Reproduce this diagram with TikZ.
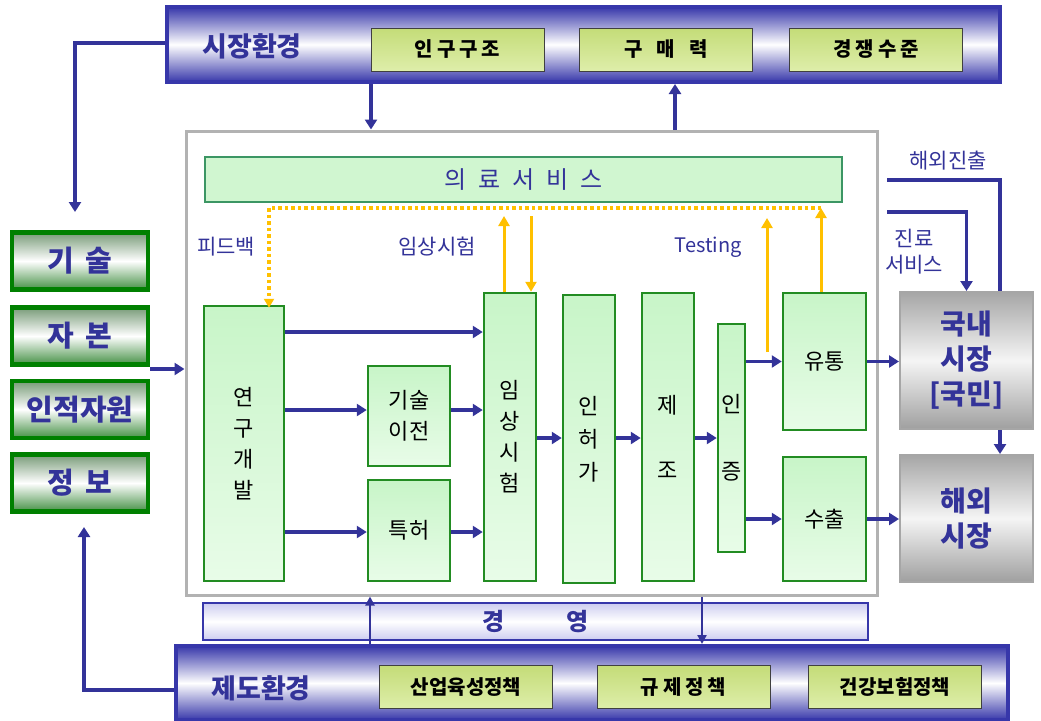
\documentclass[tikz,border=0pt]{standalone}
\usepackage{fontspec}
\setmainfont{Noto Sans CJK KR}
\usetikzlibrary{arrows.meta}
\definecolor{navy}{RGB}{51,51,153}
\definecolor{barblue}{RGB}{55,55,170}
\definecolor{mint}{RGB}{200,245,200}
\definecolor{mintlt}{RGB}{232,252,232}
\definecolor{grnline}{RGB}{34,140,34}
\definecolor{olivebox}{RGB}{196,220,120}
\definecolor{olivelt}{RGB}{222,238,170}
\definecolor{gold}{RGB}{255,192,0}
\definecolor{tealgrn}{RGB}{60,150,100}
\definecolor{lgreen}{RGB}{0,128,0}
\definecolor{lgtop}{RGB}{120,155,120}
\definecolor{lgbot}{RGB}{70,145,70}
\definecolor{lav}{RGB}{205,205,240}
\tikzset{
  bararrow/.style={draw=navy, line width=3.5pt, -{Triangle[length=10pt,width=12pt]}},
  thinarrow/.style={draw=navy, line width=2.2pt, -{Triangle[length=9pt,width=9pt]}},
  bline/.style={draw=navy, line width=3.5pt},
  yarrow/.style={draw=gold, line width=3pt, -{Triangle[length=10pt,width=11pt]}},
  ydots/.style={draw=gold, line width=3.5pt, dash pattern=on 3.5pt off 3pt},
  ydotarrow/.style={draw=gold, line width=3.5pt, dash pattern=on 3.5pt off 3pt, -{Triangle[length=9pt,width=10pt]}},
  envbar/.style={draw=barblue, line width=4pt, top color=barblue, bottom color=barblue, middle color=white, inner sep=0pt},
  envlabel/.style={text=navy, font=\bfseries\fontsize{27}{30}\selectfont, inner sep=0pt},
  obox/.style={draw=black!75, line width=1pt, top color=olivebox, bottom color=olivelt, minimum width=173pt, minimum height=43pt, inner sep=0pt, font=\bfseries\fontsize{20}{22}\selectfont},
  lbox/.style={draw=lgreen, line width=4.5pt, top color=lgtop, bottom color=lgbot, middle color=white, minimum width=136pt, minimum height=57pt, inner sep=0pt, text=navy, font=\bfseries\fontsize{29}{30}\selectfont},
  pbox/.style={draw=grnline, line width=2.5pt, top color=mint, bottom color=mintlt, inner sep=0pt, align=center, font=\fontsize{22}{31}\selectfont},
  mbox/.style={draw=gray!60, line width=3pt, fill=white, inner sep=0pt},
  gbox/.style={draw=gray!70, line width=2pt, top color=gray!70, bottom color=gray!75, middle color=gray!8, inner sep=0pt, minimum width=133pt, align=center, text=navy, font=\bfseries\fontsize{28}{35}\selectfont},
  lbl/.style={text=navy, inner sep=0pt, font=\fontsize{21}{26}\selectfont, align=center}
}
\begin{document}
\begin{tikzpicture}[x=1pt,y=-1pt]
\useasboundingbox (0,0) rectangle (1041,720);

% main frame
\node[mbox, minimum width=691pt, minimum height=464pt] (main) at (531.5,363) {};

% market environment bar
\node[envbar, minimum width=833pt, minimum height=75pt] (top) at (583.5,44.5) {};
\node[envlabel] (toplbl) at (252,46) {시장환경};
\node[obox] (t1) at (457.5,49.5) {인\hspace{4pt}구\hspace{4pt}구\hspace{4pt}조};
\node[obox] (t2) at (666,49.5) {구\hspace{14pt}매\hspace{14pt}력};
\node[obox] (t3) at (876,49.5) {경\hspace{4pt}쟁\hspace{4pt}수\hspace{4pt}준};

% institutional environment bar
\node[draw=barblue, line width=2pt, top color=lav, bottom color=lav, middle color=white, minimum width=665pt, minimum height=37pt, inner sep=0pt, text=navy, font=\bfseries\fontsize{24}{26}\selectfont] (mgmt) at (535.5,621.5) {경\hspace{62pt}영};
\node[envbar, minimum width=832pt, minimum height=74pt] (bot) at (592,683) {};
\node[envlabel] (botlbl) at (261,688) {제도환경};
\node[obox] (b1) at (466,687) {산업육성정책};
\node[obox] (b2) at (683.5,687) {규\hspace{4pt}제\hspace{4pt}정\hspace{4pt}책};
\node[obox] (b3) at (895,687) {건강보험정책};

% left resource boxes
\node[lbox] (l1) at (80,261) {기\hspace{12pt}술};
\node[lbox] (l2) at (80,336) {자\hspace{12pt}본};
\node[lbox] (l3) at (80,409.5) {인적자원};
\node[lbox] (l4) at (80,483) {정\hspace{12pt}보};

% medical service bar
\node[draw=tealgrn, line width=2.5pt, fill=mint!85, minimum width=637pt, minimum height=45pt, inner sep=0pt, text=navy, font=\fontsize{24}{26}\selectfont] (msvc) at (523.5,179.5) {의\hspace{12pt}료\hspace{12pt}서\hspace{12pt}비\hspace{12pt}스};

% process boxes
\node[pbox, minimum width=80pt, minimum height=275pt] (rd) at (244,443.5) {연\\구\\개\\발};
\node[pbox, minimum width=82pt, minimum height=100pt] (tt) at (409,416) {기술\\이전};
\node[pbox, minimum width=82pt, minimum height=101pt] (pt) at (409,530.5) {특허};
\node[pbox, minimum width=52pt, minimum height=288pt] (ct) at (510,437) {임\\상\\시\\험};
\node[pbox, minimum width=52pt, minimum height=288pt, font=\fontsize{22}{33}\selectfont] (lic) at (589,439) {인\\허\\가};
\node[pbox, minimum width=52pt, minimum height=288pt, font=\fontsize{22}{65}\selectfont] (mfg) at (668,437) {제\\조};
\node[pbox, minimum width=27pt, minimum height=228pt, font=\fontsize{22}{67}\selectfont] (cert) at (731.5,438) {인\\증};
\node[pbox, minimum width=83pt, minimum height=137pt] (dist) at (824.5,361.5) {유통};
\node[pbox, minimum width=83pt, minimum height=124pt] (exp) at (824.5,519) {수출};

% market boxes
\node[gbox, minimum height=137pt] (dom) at (966.5,360.5) {국내\\시장\\{[}국민{]}};
\node[gbox, minimum height=127pt] (abr) at (966.5,518.5) {해외\\시장};

% labels
\node[lbl] (fbl) at (226,247) {피드백};
\node[lbl] (ctl) at (437,247) {임상시험};
\node[lbl, font=\fontsize{20}{22}\selectfont] (tsl) at (708,247) {Testing};
\node[lbl] (hjl) at (948,161) {해외진출};
\node[lbl, font=\fontsize{21}{26}\selectfont] (jsl) at (914,252) {진료\\서비스};

% coordinates for free ends
\coordinate (xa) at (371,0);
\coordinate (xb) at (675,0);
\coordinate (xc) at (370,0);
\coordinate (xd) at (702,0);
\coordinate (tlc) at (75,212);
\coordinate (blc) at (84,527);
\coordinate (y690) at (0,690);
\coordinate (y43) at (0,43);
\coordinate (kin) at (150,369);
\coordinate (hj) at (887,180);
\coordinate (js) at (887,212);
\coordinate (r1) at (0,332);
\coordinate (r2) at (0,410);
\coordinate (r3) at (0,532);
\coordinate (r4) at (0,438);
\coordinate (yd1) at (821,208);
\coordinate (yd2) at (269,208);
\coordinate (ya) at (504,216);
\coordinate (yb) at (531,216);
\coordinate (yc1) at (767,352);
\coordinate (yc2) at (767,218);

% top bar connectors
\draw[bararrow] (top.south -| xa) -- (main.north -| xa);
\draw[bararrow] (main.north -| xb) -- (top.south -| xb);
\draw[bararrow] (top.west |- y43) -| (tlc);
\draw[bararrow] (kin) -- (kin -| main.west);

% bottom bar connectors
\draw[thinarrow] (bot.north -| xc) -- (main.south -| xc);
\draw[thinarrow] (main.south -| xd) -- (bot.north -| xd);
\draw[bararrow] (bot.west |- y690) -| (blc);

% process arrows
\draw[bararrow] (rd.east |- r1) -- (ct.west |- r1);
\draw[bararrow] (rd.east |- r2) -- (tt.west |- r2);
\draw[bararrow] (rd.east |- r3) -- (pt.west |- r3);
\draw[bararrow] (tt.east |- r2) -- (ct.west |- r2);
\draw[bararrow] (pt.east |- r3) -- (ct.west |- r3);
\draw[bararrow] (ct.east |- r4) -- (lic.west |- r4);
\draw[bararrow] (lic.east |- r4) -- (mfg.west |- r4);
\draw[bararrow] (mfg.east |- r4) -- (cert.west |- r4);
\draw[bararrow] (cert.east |- dist.west) -- (dist.west);
\draw[bararrow] (cert.east |- exp.west) -- (exp.west);
\draw[bararrow] (dist.east) -- (dom.west |- dist.east);
\draw[bararrow] (exp.east) -- (abr.west |- exp.east);

% right side connectors
\draw[bline] (hj) -| ([xshift=33.5pt]dom.north);
\draw[bararrow] (js) -| (dom.north);
\draw[bararrow] ([xshift=33.5pt]dom.south) -- ([xshift=33.5pt]abr.north);

% yellow connectors
\draw[ydots] (yd1) -- (yd2);
\draw[ydotarrow] (yd2) -- ([xshift=25pt,yshift=-3pt]rd.north);
\draw[yarrow] (ct.north -| ya) -- (ya);
\draw[yarrow] (yb) -- (ct.north -| yb);
\draw[yarrow] (yc1) -- (yc2);
\draw[yarrow] (dist.north -| yd1) -- (yd1);
\end{tikzpicture}
\end{document}
